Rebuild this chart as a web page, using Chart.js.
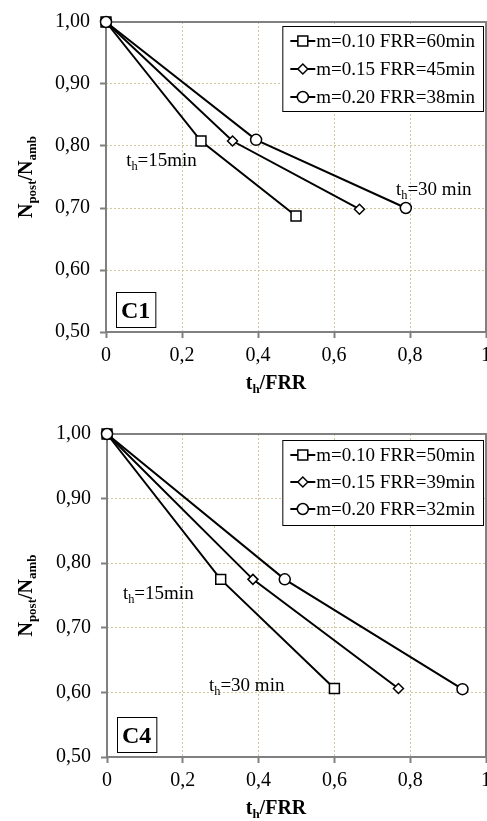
<!DOCTYPE html>
<html>
<head>
<meta charset="utf-8">
<script src="https://cdn.jsdelivr.net/npm/chart.js@4.4.0/dist/chart.umd.min.js"></script>
<style>
  html, body { margin: 0; padding: 0; background: #fff; overflow: hidden; width: 487px; height: 821px; }
  .panel { position: absolute; left: 0; }
  #p1 { top: 0; }
  #p2 { top: 410px; }
</style>
</head>
<body>
<div class="panel" id="p1"><canvas id="c1" width="520" height="410"></canvas></div>
<div class="panel" id="p2"><canvas id="c4" width="520" height="411"></canvas></div>
<script>
// --- data ---
const pointStyles = ['rect', 'rectRot', 'circle'];
const pointSizes = [7, 5, 5.5];

const c1Labels = ['m=0.10 FRR=60min', 'm=0.15 FRR=45min', 'm=0.20 FRR=38min'];
const c1X = [[0, 0.25, 0.50], [0, 0.333, 0.667], [0, 0.395, 0.789]];
const c1Y = [[1.00, 0.808, 0.687], [1.00, 0.808, 0.698], [1.00, 0.810, 0.700]];
const c1NoteText = ['15min', '30 min'];
const c1NoteX = [0.053, 0.763];
const c1NoteY = [0.778, 0.731];

const c4Labels = ['m=0.10 FRR=50min', 'm=0.15 FRR=39min', 'm=0.20 FRR=32min'];
const c4X = [[0, 0.30, 0.60], [0, 0.385, 0.769], [0, 0.469, 0.938]];
const c4Y = [[1.00, 0.775, 0.606], [1.00, 0.775, 0.606], [1.00, 0.775, 0.605]];
const c4NoteText = ['15min', '30 min'];
const c4NoteX = [0.042, 0.269];
const c4NoteY = [0.754, 0.611];

const SERIF = "'Liberation Serif', 'Times New Roman', serif";
const gridColor = '#d4c69c';
const frameColor = '#808080';

// draw text with subscripts, parts: [text, isSub]
function drawRich(ctx, parts, x, y, size, bold, align) {
    const w = parts.reduce((s, p) => {
        ctx.font = (bold ? 'bold ' : '') + (p[1] ? size * 0.65 : size) + 'px ' + SERIF;
        return s + ctx.measureText(p[0]).width;
    }, 0);
    let cx = align === 'center' ? x - w / 2 : x;
    ctx.textBaseline = 'alphabetic';
    ctx.textAlign = 'left';
    ctx.fillStyle = '#000';
    parts.forEach(p => {
        ctx.font = (bold ? 'bold ' : '') + (p[1] ? size * 0.65 : size) + 'px ' + SERIF;
        ctx.fillText(p[0], cx, p[1] ? y + size * 0.22 : y);
        cx += ctx.measureText(p[0]).width;
    });
}

const framePlugin = {
    id: 'frame',
    beforeDatasetsDraw(chart) {
        const a = chart.chartArea, ctx = chart.ctx;
        ctx.save();
        ctx.strokeStyle = frameColor;
        ctx.lineWidth = 2;
        ctx.strokeRect(a.left, a.top, a.right - a.left, a.bottom - a.top);
        ctx.restore();
    }
};

const extrasPlugin = {
    id: 'extras',
    afterDatasetsDraw(chart, args, opts) {
        const a = chart.chartArea, ctx = chart.ctx;
        const xs = chart.scales.x, ys = chart.scales.y;
        ctx.save();

        // legend box, top right inside plot
        ctx.font = '19px ' + SERIF;
        const textW = Math.max(...chart.data.datasets.map(d => ctx.measureText(d.label).width));
        const bw = 8 + 26 + textW + 8, bh = 85;
        const bx = a.right - 3 - bw, by = a.top + opts.legendTop;
        ctx.fillStyle = '#fff';
        ctx.fillRect(bx, by, bw, bh);
        ctx.strokeStyle = '#000';
        ctx.lineWidth = 1;
        ctx.strokeRect(bx + 0.5, by + 0.5, bw, bh);
        chart.data.datasets.forEach((d, i) => {
            const ry = by + 15 + i * opts.rowGap;
            ctx.strokeStyle = '#000';
            ctx.lineWidth = 2;
            ctx.beginPath();
            ctx.moveTo(bx + 8, ry);
            ctx.lineTo(bx + 33, ry);
            ctx.stroke();
            ctx.fillStyle = '#fff';
            ctx.lineWidth = 1.5;
            Chart.helpers.drawPoint(ctx, { pointStyle: d.pointStyle, radius: d.pointRadius, borderWidth: 1.5, rotation: 0 }, bx + 20.5, ry);
            ctx.fillStyle = '#000';
            ctx.font = '19px ' + SERIF;
            ctx.textAlign = 'left';
            ctx.textBaseline = 'middle';
            ctx.fillText(d.label, bx + 34, ry + 1);
        });

        // t_h annotations
        opts.noteText.forEach((t, i) => {
            drawRich(ctx, [['t', false], ['h', true], ['=' + t, false]],
                xs.getPixelForValue(opts.noteX[i]), ys.getPixelForValue(opts.noteY[i]) + 6, 19, false, 'left');
        });

        // panel tag
        ctx.font = 'bold 24px ' + SERIF;
        const tw = ctx.measureText(opts.tag).width;
        const tx = a.left + 10, tyb = a.bottom - 5;
        ctx.fillStyle = '#fff';
        ctx.fillRect(tx, tyb - 35, tw + 10, 35);
        ctx.strokeStyle = '#000';
        ctx.lineWidth = 1;
        ctx.strokeRect(tx + 0.5, tyb - 35 + 0.5, tw + 10, 35);
        ctx.fillStyle = '#000';
        ctx.textAlign = 'left';
        ctx.textBaseline = 'alphabetic';
        ctx.fillText(opts.tag, tx + 5, tyb - 9);

        // axis titles
        drawRich(ctx, [['t', false], ['h', true], ['/FRR', false]], 276, a.bottom + 57, 20, true, 'center');
        ctx.translate(32, (a.top + a.bottom) / 2);
        ctx.rotate(-Math.PI / 2);
        drawRich(ctx, [['N', false], ['post', true], ['/N', false], ['amb', true]], 0, 0, 20, true, 'center');
        ctx.restore();
    }
};

function createPanel(canvasId, labels, xs, ys, opts) {
    const ctx = document.getElementById(canvasId);
    return new Chart(ctx, {
        type: 'line',
        data: {
            datasets: labels.map((lab, i) => ({
                label: lab,
                data: xs[i].map((x, j) => ({ x: x, y: ys[i][j] })),
                borderColor: '#000',
                borderWidth: 2,
                pointStyle: pointStyles[i],
                pointRadius: pointSizes[i],
                pointBackgroundColor: '#fff',
                pointBorderColor: '#000',
                pointBorderWidth: 1.5,
                tension: 0,
                order: labels.length - i,
                clip: false
            }))
        },
        options: {
            responsive: false,
            animation: false,
            layout: { padding: { top: opts.padTop, right: 34, left: 0, bottom: 0 } },
            plugins: {
                legend: { display: false },
                tooltip: { enabled: false },
                extras: opts
            },
            scales: {
                x: {
                    type: 'linear',
                    min: 0, max: 1,
                    ticks: {
                        stepSize: 0.2,
                        color: '#000',
                        font: { family: SERIF, size: 20 },
                        padding: 6,
                        maxRotation: 0,
                        callback: v => String(Math.round(v * 10) / 10).replace('.', ',')
                    },
                    grid: { color: gridColor, lineWidth: 1, tickColor: frameColor, tickLength: 6, tickWidth: 2 },
                    border: { display: false, dash: [2, 2] },
                    afterFit: s => { s.height = opts.xAxisH; }
                },
                y: {
                    min: 0.5, max: 1.0,
                    ticks: {
                        stepSize: 0.1,
                        color: '#000',
                        font: { family: SERIF, size: 20 },
                        padding: 10,
                        callback: v => v.toFixed(2).replace('.', ',')
                    },
                    grid: { color: gridColor, lineWidth: 1, tickColor: frameColor, tickLength: 6, tickWidth: 2 },
                    border: { display: false, dash: [2, 2] },
                    afterFit: s => { s.width = opts.yAxisW; }
                }
            }
        },
        plugins: [framePlugin, extrasPlugin]
    });
}

createPanel('c1', c1Labels, c1X, c1Y, {
    padTop: 14, xAxisH: 78, yAxisW: 106, legendTop: 4, rowGap: 28,
    noteText: c1NoteText, noteX: c1NoteX, noteY: c1NoteY, tag: 'C1'
});
createPanel('c4', c4Labels, c4X, c4Y, {
    padTop: 24, xAxisH: 64, yAxisW: 107, legendTop: 6, rowGap: 27,
    noteText: c4NoteText, noteX: c4NoteX, noteY: c4NoteY, tag: 'C4'
});
</script>
</body>
</html>
